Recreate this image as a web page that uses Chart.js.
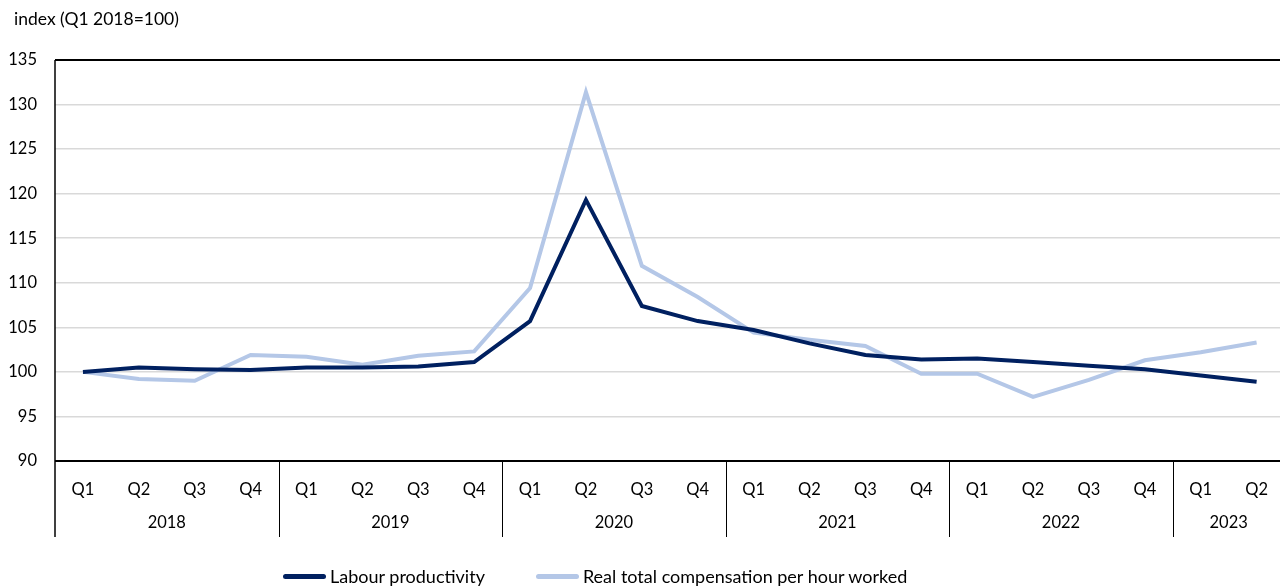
<!DOCTYPE html>
<html><head><meta charset="utf-8">
<script src="https://cdn.jsdelivr.net/npm/chart.js@4.4.0/dist/chart.umd.min.js"></script>
<style>
html,body{margin:0;padding:0;background:#fff;overflow:hidden;}
#wrap{position:relative;width:1280px;height:587px;overflow:hidden;font-family:Lato,"Open Sans",sans-serif;color:#000;}
#title{position:absolute;left:14px;top:8px;font-size:17.5px;}
#legend{position:absolute;left:283px;top:565px;font-size:18px;display:flex;align-items:center;white-space:nowrap;}
.sw{display:inline-block;width:43px;height:5px;border-radius:3px;margin-right:4px;}
canvas{position:absolute;left:0;top:0;}
</style></head>
<body>
<div id="wrap">
<canvas id="c" width="1287" height="587"></canvas>
<div id="title">index (Q1 2018=100)</div>
<div id="legend"><span class="sw" style="background:#002060"></span><span>Labour productivity</span><span style="width:51px;display:inline-block"></span><span class="sw" style="background:#b4c7e7"></span><span>Real total compensation per hour worked</span></div>
</div>
<script>
const quarters = ["Q1","Q2","Q3","Q4","Q1","Q2","Q3","Q4","Q1","Q2","Q3","Q4","Q1","Q2","Q3","Q4","Q1","Q2","Q3","Q4","Q1","Q2"];
const years = ["2018","2019","2020","2021","2022","2023"];
const quartersPerYear = [4,4,4,4,4,2];
const labourProductivity = [100.0,100.5,100.3,100.2,100.5,100.5,100.6,101.1,105.7,119.3,107.4,105.7,104.7,103.2,101.9,101.4,101.5,101.1,100.7,100.3,99.6,98.9];
const realCompensation = [100.0,99.2,99.0,101.9,101.7,100.8,101.8,102.3,109.4,131.4,111.9,108.4,104.4,103.6,102.9,99.8,99.8,97.2,99.1,101.3,102.2,103.3];
const yTicks = [90,95,100,105,110,115,120,125,130,135];

const FONT = {family:'Lato, "Open Sans", sans-serif', size:16.5};

const yearPlugin = {
  id:'years',
  afterDraw(chart){
    const ctx = chart.ctx, x = chart.scales.x, a = chart.chartArea;
    const half = (x.getPixelForValue(1) - x.getPixelForValue(0))/2;
    const bottomY = 537;
    ctx.save();
    ctx.strokeStyle = '#000';
    ctx.lineWidth = 2;
    ctx.beginPath(); ctx.moveTo(a.left, a.bottom); ctx.lineTo(a.right, a.bottom); ctx.stroke();
    ctx.beginPath(); ctx.moveTo(a.left, a.top); ctx.lineTo(a.right, a.top); ctx.stroke();
    ctx.lineWidth = 1.5;
    ctx.beginPath(); ctx.moveTo(a.left, a.top); ctx.lineTo(a.left, bottomY); ctx.stroke();
    ctx.font = FONT.size + 'px ' + FONT.family;
    ctx.fillStyle = '#000';
    ctx.textAlign = 'center'; ctx.textBaseline = 'middle';
    let idx = 0;
    years.forEach((yr,i)=>{
      const n = quartersPerYear[i];
      const x0 = x.getPixelForValue(idx) - half;
      const x1 = x.getPixelForValue(idx+n-1) + half;
      if (i>0){ ctx.lineWidth=1; ctx.beginPath(); ctx.moveTo(Math.round(x0)+0.5, a.bottom); ctx.lineTo(Math.round(x0)+0.5, bottomY); ctx.stroke(); }
      ctx.fillText(yr, (x0+x1)/2, 523);
      idx += n;
    });
    ctx.restore();
  }
};

new Chart(document.getElementById('c'), {
  type:'line',
  data:{
    labels: quarters,
    datasets:[
      {label:'Labour productivity', data:labourProductivity, borderColor:'#002060', backgroundColor:'#002060', borderWidth:4, pointRadius:0, tension:0, order:1},
      {label:'Real total compensation per hour worked', data:realCompensation, borderColor:'#b4c7e7', backgroundColor:'#b4c7e7', borderWidth:4, pointRadius:0, tension:0, order:2}
    ]
  },
  options:{
    responsive:false, animation:false,
    layout:{padding:{top:60,right:0,bottom:0,left:0}},
    plugins:{legend:{display:false}, tooltip:{enabled:false}},
    scales:{
      x:{
        offset:true,
        grid:{display:false, drawTicks:false},
        border:{display:false},
        ticks:{font:FONT, color:'#000', padding:19, maxRotation:0, autoSkip:false},
        afterFit(s){ s.height = 126; }
      },
      y:{
        min:90, max:135,
        afterBuildTicks(s){ s.ticks = yTicks.map(v=>({value:v})); },
        grid:{color:'#d9d9d9', lineWidth:1.5, drawTicks:false},
        border:{display:false},
        ticks:{font:FONT, color:'#000', padding:18},
        afterFit(s){ s.width = 55; }
      }
    }
  },
  plugins:[yearPlugin]
});
</script>
</body></html>
